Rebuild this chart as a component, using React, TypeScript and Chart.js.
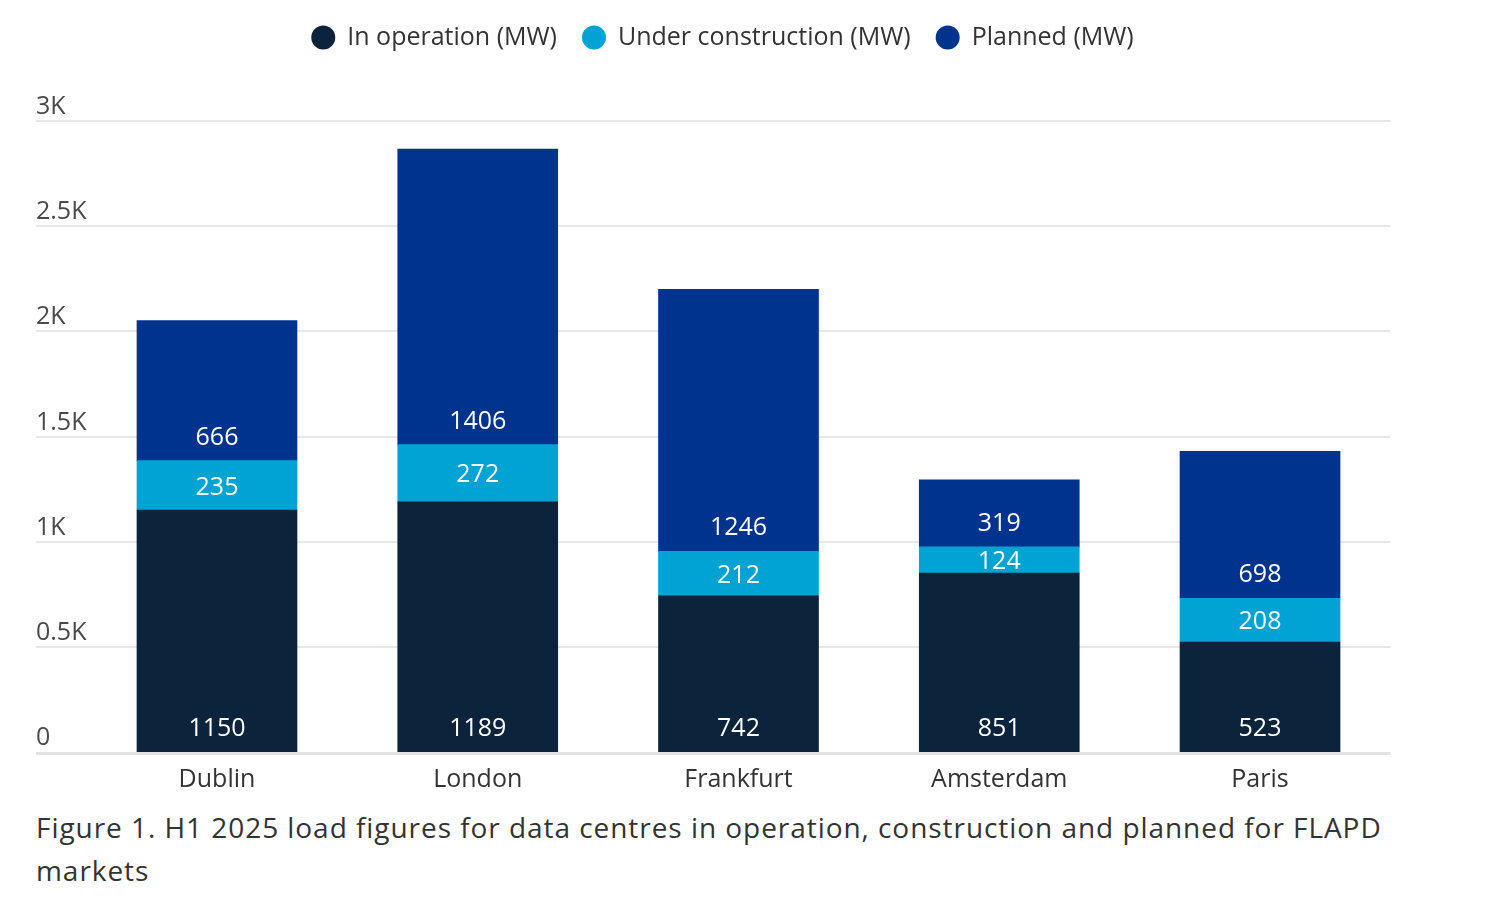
import React, { useEffect, useRef } from "react";
import { Chart, registerables } from "chart.js";

Chart.register(...registerables);

const categories = ["Dublin", "London", "Frankfurt", "Amsterdam", "Paris"];
const inOperation = [1150, 1189, 742, 851, 523];
const underConstruction = [235, 272, 212, 124, 208];
const planned = [666, 1406, 1246, 319, 698];
const seriesNames = ["In operation (MW)", "Under construction (MW)", "Planned (MW)"];
const yTickValues = [0, 500, 1000, 1500, 2000, 2500, 3000];
const yTickLabels = ["0", "0.5K", "1K", "1.5K", "2K", "2.5K", "3K"];
const captionText =
  "Figure 1. H1 2025 load figures for data centres in operation, construction and planned for FLAPD markets";

const FONT = "'Open Sans', 'Noto Sans', sans-serif";
const COLORS = ["#0c233c", "#00a3d4", "#00338d"];
const LABEL_ANCHOR = ["bottom", "center", "bottom"];
const GRID_LEFT = 28;

const decorPlugin = {
  id: "decor",
  beforeDatasetsDraw(chart: any) {
    const { ctx, chartArea, scales } = chart;
    const y = scales.y;
    ctx.save();
    yTickValues.forEach((v, i) => {
      const py = Math.round(y.getPixelForValue(v));
      if (v === 0) {
        ctx.fillStyle = "#e2e2e2";
        ctx.fillRect(GRID_LEFT, py, chartArea.right - GRID_LEFT, 3);
      } else {
        ctx.fillStyle = "#e8e8e8";
        ctx.fillRect(GRID_LEFT, py - 1, chartArea.right - GRID_LEFT, 2);
      }
      ctx.fillStyle = "#4a4a4a";
      ctx.font = `25px ${FONT}`;
      ctx.textAlign = "left";
      ctx.textBaseline = "middle";
      ctx.fillText(yTickLabels[i], GRID_LEFT, py - 14);
    });
    ctx.restore();
  },
  afterDatasetsDraw(chart: any) {
    const { ctx } = chart;
    ctx.save();
    ctx.font = `25px ${FONT}`;
    ctx.fillStyle = "#ffffff";
    ctx.textAlign = "center";
    ctx.textBaseline = "middle";
    chart.data.datasets.forEach((ds: any, i: number) => {
      const meta = chart.getDatasetMeta(i);
      meta.data.forEach((bar: any, j: number) => {
        const { x, y, base } = bar.getProps(["x", "y", "base"], true);
        const ly = LABEL_ANCHOR[i] === "center" ? (y + base) / 2 + 2 : base - 23;
        ctx.fillText(String(ds.data[j]), x, ly);
      });
    });
    ctx.restore();
  },
  afterDraw(chart: any) {
    const { ctx } = chart;
    ctx.save();
    ctx.font = `25px ${FONT}`;
    ctx.textBaseline = "middle";
    ctx.textAlign = "left";
    const d = 24, gapText = 12, gapItem = 25;
    const items = chart.data.datasets.map((ds: any) => ({
      text: ds.label,
      color: ds.backgroundColor,
      w: ctx.measureText(ds.label).width,
    }));
    const total =
      items.reduce((s: number, it: any) => s + d + gapText + it.w, 0) + gapItem * (items.length - 1);
    let x = 714.5 - total / 2;
    const cy = 29.5;
    items.forEach((it: any) => {
      ctx.fillStyle = it.color;
      ctx.beginPath();
      ctx.arc(x + d / 2, cy, d / 2, 0, Math.PI * 2);
      ctx.fill();
      ctx.fillStyle = "#333333";
      ctx.fillText(it.text, x + d + gapText, cy);
      x += d + gapText + it.w + gapItem;
    });
    ctx.restore();
  },
};

export default function App() {
  const ref = useRef<HTMLCanvasElement | null>(null);
  useEffect(() => {
    if (!ref.current) return;
    Chart.defaults.font.family = FONT;
    const chart = new Chart(ref.current, {
      type: "bar",
      data: {
        labels: categories,
        datasets: [
          { label: seriesNames[0], data: inOperation, backgroundColor: COLORS[0] },
          { label: seriesNames[1], data: underConstruction, backgroundColor: COLORS[1] },
          { label: seriesNames[2], data: planned, backgroundColor: COLORS[2] },
        ],
      },
      options: {
        animation: false,
        responsive: true,
        maintainAspectRatio: false,
        layout: { padding: { left: 78.6, right: 105.6, top: 113, bottom: 0 } },
        datasets: { bar: { barThickness: 160, borderWidth: 0 } },
        plugins: { legend: { display: false }, tooltip: { enabled: false } },
        scales: {
          x: {
            stacked: true,
            grid: { display: false, drawTicks: false },
            border: { display: false },
            ticks: { padding: 13, color: "#333333", font: { size: 25, family: FONT } },
          },
          y: {
            stacked: true,
            display: false,
            min: 0,
            max: 3000,
          },
        },
      },
      plugins: [decorPlugin],
    } as any);
    return () => chart.destroy();
  }, []);

  return (
    <div>
      <div style={{ position: "relative", width: 1488, height: 800 }}>
        <canvas ref={ref} />
      </div>
      <div
        style={{
          marginLeft: 28,
          marginTop: -2,
          width: 1375,
          fontFamily: FONT,
          fontSize: 28,
          letterSpacing: "0.95px",
          lineHeight: "43px",
          color: "#333333",
        }}
      >
        {captionText}
      </div>
    </div>
  );
}
